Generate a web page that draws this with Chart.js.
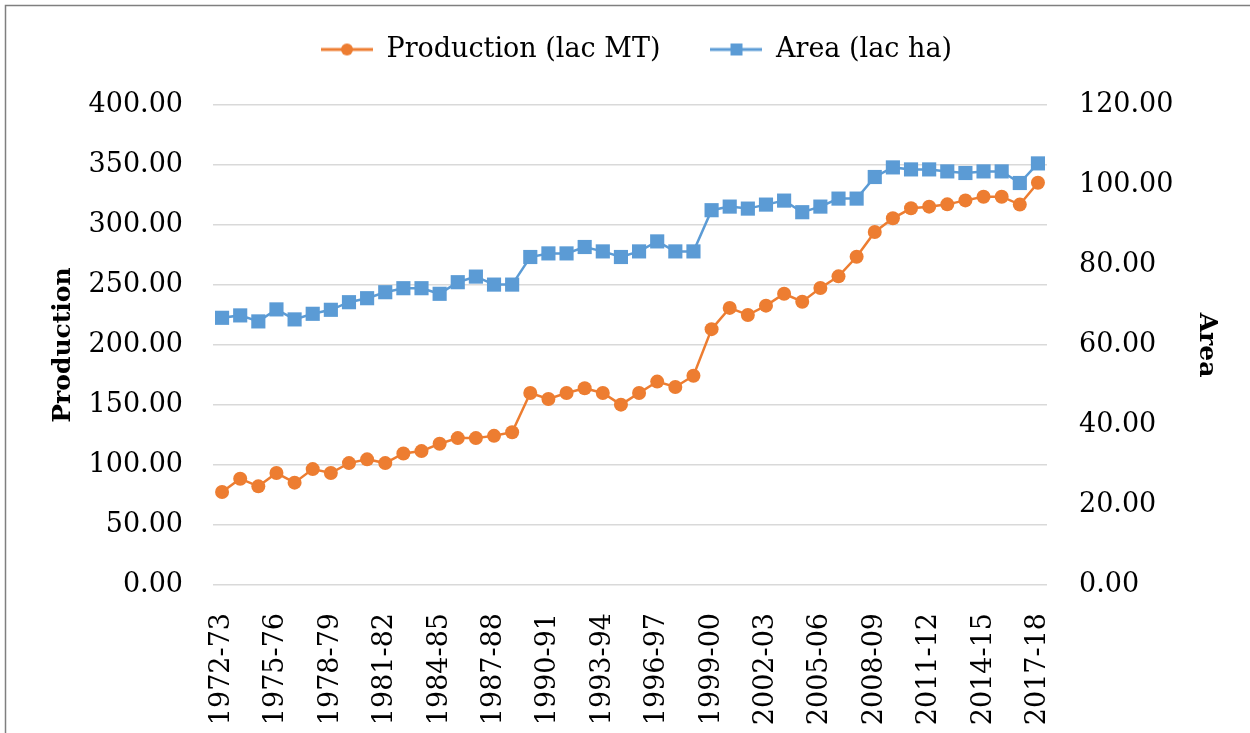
<!DOCTYPE html>
<html>
<head>
<meta charset="utf-8">
<script src="https://cdn.jsdelivr.net/npm/chart.js@4.4.1/dist/chart.umd.min.js"></script>
<style>
html,body{margin:0;padding:0;background:#fff;}
#wrap{width:1250px;height:733px;position:relative;}
</style>
</head>
<body>
<div id="wrap"><canvas id="c" width="1250" height="733"></canvas></div>
<script>
const categories = ["1972-73","1973-74","1974-75","1975-76","1976-77","1977-78","1978-79","1979-80","1980-81","1981-82","1982-83","1983-84","1984-85","1985-86","1986-87","1987-88","1988-89","1989-90","1990-91","1991-92","1992-93","1993-94","1994-95","1995-96","1996-97","1997-98","1998-99","1999-00","2000-01","2001-02","2002-03","2003-04","2004-05","2005-06","2006-07","2007-08","2008-09","2009-10","2010-11","2011-12","2012-13","2013-14","2014-15","2015-16","2016-17","2017-18"];
const production = [77.5,88.6,82.2,93.3,85.3,96.6,93.3,101.6,104.7,101.6,109.6,111.6,117.7,122.4,122.4,124.3,127.3,160.0,155.0,160.0,163.9,160.0,150.3,160.0,169.5,165.0,174.4,213.2,230.9,225.0,232.8,242.7,236.1,247.5,257.2,273.5,294.2,305.6,313.9,315.3,317.2,320.5,323.6,323.6,317.0,335.2];
const area = [66.8,67.4,65.9,68.9,66.4,67.8,68.8,70.7,71.7,73.2,74.2,74.2,72.8,75.7,77.1,75.1,75.1,82.0,82.9,82.9,84.5,83.4,82.0,83.4,85.9,83.4,83.4,93.7,94.6,94.1,95.1,96.1,93.2,94.6,96.6,96.6,102.0,104.4,103.9,103.9,103.4,103.0,103.4,103.4,100.5,105.4];
const productionTicks = [0,50,100,150,200,250,300,350,400];
const areaTicks = [0,20,40,60,80,100,120];

const ORANGE = '#ED7D31';
const BLUE = '#5B9BD5';
const FONT = "'DejaVu Serif', serif";

function legendIcon(color, style) {
  const cv = document.createElement('canvas');
  cv.width = 52; cv.height = 16;
  const g = cv.getContext('2d');
  g.strokeStyle = color; g.lineWidth = 3;
  g.beginPath(); g.moveTo(0, 8); g.lineTo(52, 8); g.stroke();
  g.fillStyle = color;
  if (style === 'circle') { g.beginPath(); g.arc(26, 8, 6, 0, Math.PI*2); g.fill(); }
  else { g.fillRect(20, 2, 12, 12); }
  return cv;
}

const frame = {
  id: 'frame',
  afterLayout(chart) {
    const L = chart.legend;
    if (L) { L.top -= 32; L.bottom -= 32; }
  },
  beforeDraw(chart) {
    const c = chart.ctx;
    c.save();
    c.fillStyle = '#fff';
    c.fillRect(0, 0, chart.width, chart.height);
    c.strokeStyle = '#7f7f7f';
    c.lineWidth = 1.5;
    c.beginPath();
    c.moveTo(5.5, 733); c.lineTo(5.5, 5.5); c.lineTo(1250, 5.5);
    c.stroke();
    c.restore();
  }
};

new Chart(document.getElementById('c'), {
  type: 'line',
  data: {
    labels: categories,
    datasets: [
      { label: 'Production (lac MT)', data: production, yAxisID: 'y', borderColor: ORANGE, backgroundColor: ORANGE,
        borderWidth: 2.5, pointStyle: 'circle', pointRadius: 7, pointBorderWidth: 0, tension: 0 },
      { label: 'Area (lac ha)', data: area, yAxisID: 'y1', borderColor: BLUE, backgroundColor: BLUE,
        borderWidth: 2.5, pointStyle: 'rect', pointRadius: 10, pointBorderWidth: 0, tension: 0 }
    ]
  },
  options: {
    responsive: false,
    animation: false,
    layout: { padding: { top: 18, left: 48, right: 25, bottom: 0 } },
    plugins: {
      tooltip: { enabled: false },
      legend: {
        position: 'top',
        labels: {
          font: { family: FONT, size: 27 },
          color: '#000',
          usePointStyle: true,
          pointStyleWidth: 52,
          padding: 50,
          generateLabels(chart) {
            return chart.data.datasets.map((ds, i) => ({
              text: ds.label,
              pointStyle: legendIcon(ds.borderColor, i === 0 ? 'circle' : 'rect'),
              fillStyle: ds.borderColor, strokeStyle: ds.borderColor, lineWidth: 0,
              hidden: false, datasetIndex: i, fontColor: '#000'
            }));
          }
        }
      }
    },
    scales: {
      x: {
        offset: true,
        grid: { display: false, drawTicks: false },
        border: { display: false },
        ticks: {
          autoSkip: false, maxRotation: 90, minRotation: 90, padding: 28,
          color: '#000', font: { family: FONT, size: 27 },
          callback(v, i) { return i % 3 === 0 ? categories[i] : ''; }
        },
        afterFit(s) { s.height = 148; }
      },
      y: {
        position: 'left', min: 0, max: 400,
        afterBuildTicks(s) { s.ticks = productionTicks.map(v => ({ value: v })); },
        grid: { color: '#d9d9d9', lineWidth: 1.5, drawTicks: false },
        border: { display: false },
        ticks: { padding: 30, color: '#000', font: { family: FONT, size: 27 },
          callback(v) { return Number(v).toFixed(2); } },
        title: { display: true, text: 'Production', color: '#000', font: { family: FONT, size: 25, weight: 'bold' }, padding: { top: 0, bottom: 4 } },
        afterFit(s) { s.width = 165; }
      },
      y1: {
        position: 'right', min: 0, max: 120,
        afterBuildTicks(s) { s.ticks = areaTicks.map(v => ({ value: v })); },
        grid: { display: false, drawTicks: false },
        border: { display: false },
        ticks: { padding: 32, color: '#000', font: { family: FONT, size: 27 },
          callback(v) { return Number(v).toFixed(2); } },
        title: { display: true, text: 'Area', color: '#000', font: { family: FONT, size: 25, weight: 'bold' }, padding: { top: 4, bottom: 0 } },
        afterFit(s) { s.width = 178; }
      }
    }
  },
  plugins: [frame]
});
</script>
</body>
</html>
